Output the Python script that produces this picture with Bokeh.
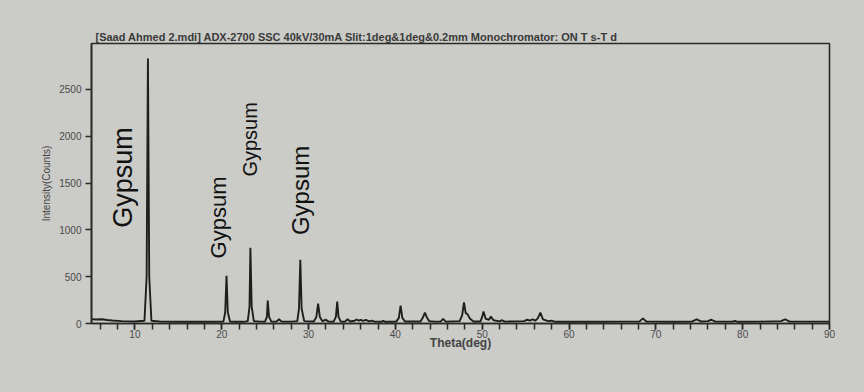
import math
from bokeh.plotting import figure
from bokeh.models import Range1d, SingleIntervalTicker, Label, ColumnDataSource
from bokeh.embed import file_html
from bokeh.resources import INLINE

# ---- data (2-theta in degrees, intensity in counts) ----
theta = [
    5.0, 5.6, 6.2, 6.8, 7.4, 8.5, 10.0,
    11.1, 11.35, 11.5, 11.65, 11.9,
    13.0, 15.0, 17.0, 19.0,
    20.2, 20.4, 20.55, 20.7, 20.95,
    21.5, 22.5,
    23.0, 23.2, 23.3, 23.45, 23.7,
    24.5,
    25.0, 25.2, 25.3, 25.45, 25.7,
    26.3, 26.6, 26.9,
    28.0,
    28.7, 28.9, 29.05, 29.2, 29.5,
    30.6, 30.9, 31.1, 31.3, 31.6,
    32.0, 32.3,
    32.9, 33.15, 33.3, 33.45, 33.7,
    34.2, 34.5, 34.8,
    35.3, 35.5, 35.8, 36.0, 36.3, 36.6, 37.0, 37.3, 37.6,
    38.4, 38.6, 38.8,
    40.1, 40.4, 40.6, 40.8, 41.1,
    42.9, 43.2, 43.4, 43.6, 43.9,
    44.5,
    45.2, 45.5, 45.8,
    47.4, 47.7, 47.9, 48.1, 48.3, 48.6, 49.0,
    49.8, 50.0, 50.15, 50.4, 50.8, 51.0, 51.3,
    52.0, 52.3, 52.6,
    54.8, 55.2, 55.5, 55.8, 56.1, 56.4, 56.7, 57.0, 57.6, 58.0, 58.4,
    60.0, 64.0, 66.0,
    68.1, 68.5, 68.9,
    70.0, 72.0,
    74.2, 74.7, 75.2,
    76.0, 76.4, 76.8,
    78.8, 79.1, 79.4,
    82.0,
    84.4, 84.9, 85.4,
    88.0, 90.0,
]
counts = [
    45, 42, 45, 38, 32, 25, 22,
    30, 500, 2830, 500, 30,
    20, 18, 18, 18,
    22, 120, 510, 120, 22,
    18, 18,
    25, 180, 808, 180, 25,
    20,
    22, 70, 245, 70, 22,
    20, 45, 20,
    20,
    25, 160, 680, 160, 25,
    22, 70, 212, 70, 25,
    40, 20,
    22, 70, 235, 70, 22,
    20, 45, 22,
    30, 42, 30, 40, 28, 38, 22, 30, 20,
    18, 30, 18,
    20, 60, 190, 60, 22,
    22, 70, 117, 70, 25,
    20,
    20, 50, 20,
    25, 90, 225, 110, 100, 50, 22,
    22, 70, 128, 50, 40, 75, 35,
    22, 35, 20,
    25, 40, 30, 45, 30, 55, 117, 45, 25, 30, 18,
    18, 18, 20,
    20, 55, 22,
    20, 18,
    22, 45, 22,
    25, 40, 22,
    20, 28, 18,
    20,
    25, 45, 20,
    20, 20,
]

peak_labels = ["Gypsum", "Gypsum", "Gypsum", "Gypsum"]

title_text = "[Saad Ahmed 2.mdi] ADX-2700 SSC 40kV/30mA Slit:1deg&1deg&0.2mm Monochromator: ON T s-T d"
x_label = "Theta(deg)"
y_label = "Intensity(Counts)"

BG = "#cbcbc7"
INK = "#2a2a2a"
FONT = "Liberation Sans"

p = figure(
    width=864, height=392,
    output_backend="svg", toolbar_location=None,
    x_range=Range1d(5, 90), y_range=Range1d(0, 2990),
    min_border_left=91, min_border_right=35, min_border_top=43, min_border_bottom=69,
)
p.background_fill_color = BG
p.border_fill_color = BG
p.outline_line_color = INK
p.outline_line_width = 1.6
p.grid.grid_line_color = None

p.title.text = title_text
p.title.align = "left"
p.title.offset = 4
p.title.standoff = 1
p.title.text_font = FONT
p.title.text_font_size = "11px"
p.title.text_font_style = "bold"
p.title.text_color = "#3a3a3a"

src = ColumnDataSource(dict(x=theta, y=counts))
p.line("x", "y", source=src, line_color="#1e1e1e", line_width=1.9)

# axes
xa = p.xaxis[0]
xa.ticker = SingleIntervalTicker(interval=10, num_minor_ticks=5)
xa.axis_label = x_label
ya = p.yaxis[0]
ya.ticker = SingleIntervalTicker(interval=500, num_minor_ticks=0)
ya.axis_label = y_label
for ax in (xa, ya):
    ax.axis_line_color = INK
    ax.axis_line_width = 1.6
    ax.major_tick_line_color = INK
    ax.major_tick_line_width = 1.5
    ax.major_tick_in = 0
    ax.major_tick_out = 6
    ax.minor_tick_line_color = INK
    ax.minor_tick_line_width = 1.5
    ax.minor_tick_in = 0
    ax.minor_tick_out = 6
    ax.major_label_text_font = FONT
    ax.major_label_text_font_size = "10px"
    ax.major_label_text_color = "#4a4a4a"
    ax.axis_label_text_font = FONT
    ax.axis_label_text_color = "#444444"
    ax.axis_label_text_font_style = "normal"
ya.minor_tick_line_color = None
ya.axis_label_text_font_size = "10px"
ya.axis_label_standoff = 4
ya.major_label_standoff = 4
xa.major_label_standoff = 0
xa.axis_label_text_font_size = "12px"
xa.axis_label_text_font_style = "bold"
xa.axis_label_standoff = -5

# "Gypsum" peak annotations (rotated)
label_x = [8.6, 19.65, 23.3, 29.1]
label_y = [1560, 1132, 1966, 1421]
label_size = ["27px", "22px", "20px", "24px"]
for txt, lx, ly, ls in zip(peak_labels, label_x, label_y, label_size):
    p.add_layout(Label(
        x=lx, y=ly, text=txt, angle=math.pi / 2,
        text_align="center", text_baseline="middle",
        text_font=FONT, text_font_size=ls, text_color="#111111",
    ))

html = file_html(p, INLINE)
style = "<style>html,body{margin:0 !important;padding:0 !important;background:%s;overflow:hidden;}</style>" % BG
html = html.replace("</head>", style + "</head>", 1)
open("out.html", "w").write(html)
